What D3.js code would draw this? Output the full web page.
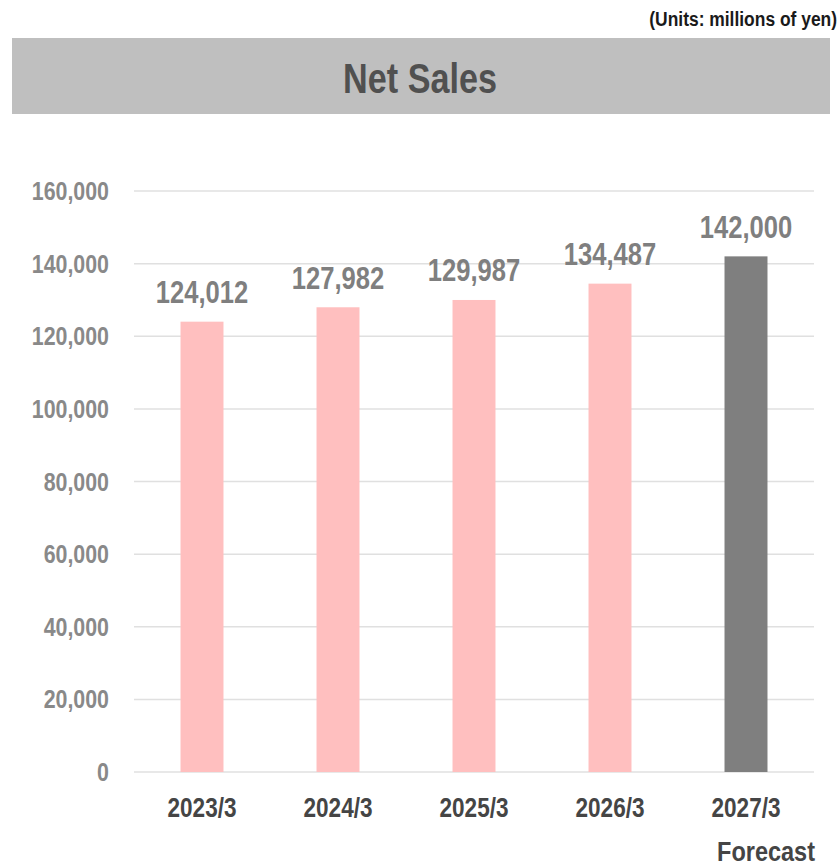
<!DOCTYPE html>
<html>
<head>
<meta charset="utf-8">
<script src="https://cdn.jsdelivr.net/npm/d3@7"></script>
<style>
  body { margin: 0; background: #fff; }
  svg { display: block; }
</style>
</head>
<body>
<script>
const categories = ['2023/3', '2024/3', '2025/3', '2026/3', '2027/3'];
const values = [124012, 127982, 129987, 134487, 142000];
const isForecast = [false, false, false, false, true];
const yTicks = [0, 20000, 40000, 60000, 80000, 100000, 120000, 140000, 160000];

const W = 838, H = 866;
// no narrow font installed, so texts get squeezed horizontally
const font = "'Liberation Sans', Arial, sans-serif";
const plot = { left: 134, right: 814, top: 191, bottom: 772 };

const svg = d3.select('body').append('svg')
  .attr('width', W).attr('height', H)
  .style('font-family', font)
  .style('font-weight', 'bold');

function narrow(sel, x, y, sx) {
  return sel.attr('transform', (d, i) => {
    const tx = typeof x === 'function' ? x(d, i) : x;
    const ty = typeof y === 'function' ? y(d, i) : y;
    return `translate(${tx},${ty}) scale(${sx},1)`;
  });
}

// units note
narrow(svg.append('text'), 837, 26, 0.83)
  .attr('text-anchor', 'end')
  .attr('font-size', 21)
  .attr('fill', '#1a1a1a')
  .text('(Units: millions of yen)');

// title band
svg.append('rect')
  .attr('x', 12).attr('y', 38).attr('width', 818).attr('height', 76)
  .attr('fill', '#bfbfbf');
narrow(svg.append('text'), 420, 93, 0.795)
  .attr('text-anchor', 'middle')
  .attr('font-size', 43)
  .attr('fill', '#505050')
  .text('Net Sales');

const x = d3.scaleBand()
  .domain(categories)
  .range([plot.left, plot.right])
  .paddingInner(0.684)
  .paddingOuter(0.342);

const y = d3.scaleLinear()
  .domain([0, 160000])
  .range([plot.bottom, plot.top]);

// gridlines
svg.append('g')
  .selectAll('line')
  .data(yTicks)
  .join('line')
  .attr('x1', plot.left).attr('x2', plot.right)
  .attr('y1', d => y(d)).attr('y2', d => y(d))
  .attr('stroke', '#e0e0e0')
  .attr('stroke-width', 1.5);

// y axis labels
narrow(svg.append('g')
  .selectAll('text')
  .data(yTicks)
  .join('text'), 109, d => y(d), 0.855)
  .attr('dy', '0.36em')
  .attr('text-anchor', 'end')
  .attr('font-size', 25)
  .attr('fill', '#898989')
  .text(d => d3.format(',')(d));

// bars
const bars = categories.map((c, i) => ({ cat: c, value: values[i], forecast: isForecast[i] }));

svg.append('g')
  .selectAll('rect')
  .data(bars)
  .join('rect')
  .attr('x', d => x(d.cat))
  .attr('width', x.bandwidth())
  .attr('y', d => y(d.value))
  .attr('height', d => y(0) - y(d.value))
  .attr('fill', d => d.forecast ? '#7f7f7f' : '#ffbfbf');

// value labels
narrow(svg.append('g')
  .selectAll('text')
  .data(bars)
  .join('text'), d => x(d.cat) + x.bandwidth() / 2, d => y(d.value) - 18.5, 0.8)
  .attr('text-anchor', 'middle')
  .attr('font-size', 32)
  .attr('fill', '#7f7f7f')
  .text(d => d3.format(',')(d.value));

// x axis labels
narrow(svg.append('g')
  .selectAll('text')
  .data(categories)
  .join('text'), d => x(d) + x.bandwidth() / 2, 817, 0.806)
  .attr('text-anchor', 'middle')
  .attr('font-size', 28)
  .attr('fill', '#454545')
  .text(d => d);

narrow(svg.append('text'), 815, 861, 0.87)
  .attr('text-anchor', 'end')
  .attr('font-size', 27)
  .attr('fill', '#454545')
  .text('Forecast');
</script>
</body>
</html>
